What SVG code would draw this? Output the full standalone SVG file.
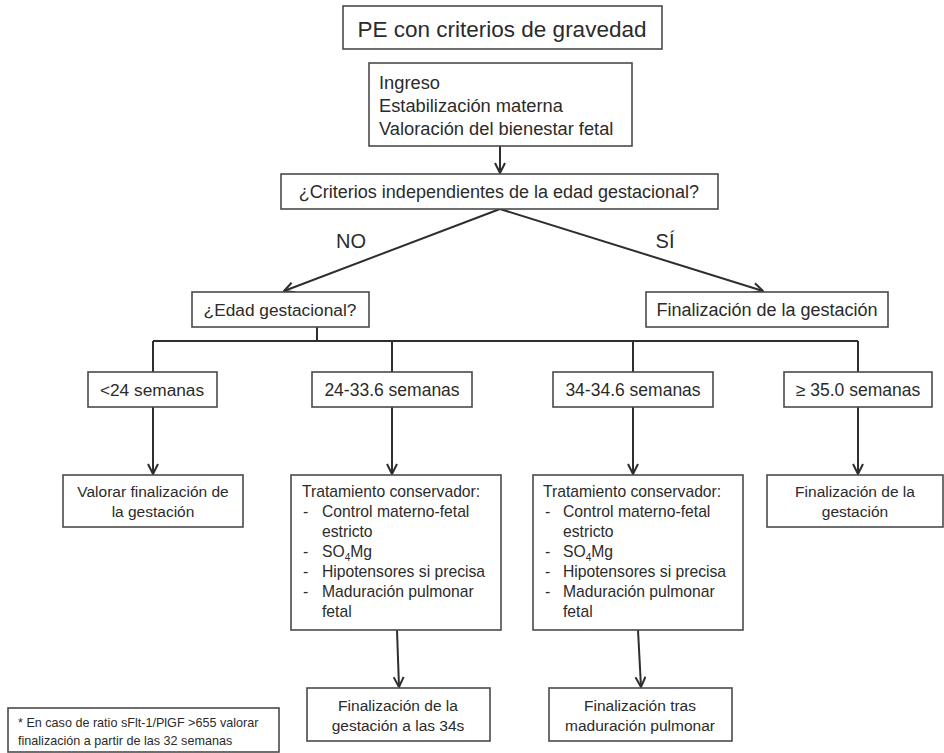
<svg xmlns="http://www.w3.org/2000/svg" width="944" height="753" viewBox="0 0 944 753">
<style>
rect.b{fill:#fff;stroke:#4a4a4a;stroke-width:1.6}
text{font-family:"Liberation Sans",Arial,sans-serif;fill:#2b2b2b}
.c{text-anchor:middle}
.l{stroke:#2e2e2e;stroke-width:2;fill:none}
</style>
<defs>
<marker id="ah" viewBox="0 0 12 12" refX="11" refY="6" markerWidth="12" markerHeight="12" markerUnits="userSpaceOnUse" orient="auto">
<path d="M1,1 L11,6 L1,11" fill="none" stroke="#2e2e2e" stroke-width="2"/>
</marker>
</defs>
<rect width="944" height="753" fill="#fff"/>
<g id="connectors">
<line class="l" x1="500" y1="146" x2="500" y2="173" marker-end="url(#ah)"/>
<line class="l" x1="500" y1="209" x2="284" y2="291" marker-end="url(#ah)"/>
<line class="l" x1="500" y1="209" x2="763" y2="291" marker-end="url(#ah)"/>
<line class="l" x1="317" y1="327" x2="317" y2="341"/>
<line class="l" x1="153" y1="341" x2="858" y2="341"/>
<line class="l" x1="153" y1="341" x2="153" y2="372"/>
<line class="l" x1="392" y1="341" x2="392" y2="372"/>
<line class="l" x1="633" y1="341" x2="633" y2="372"/>
<line class="l" x1="858" y1="341" x2="858" y2="372"/>
<line class="l" x1="153" y1="407" x2="153" y2="474" marker-end="url(#ah)"/>
<line class="l" x1="392" y1="407" x2="392" y2="474" marker-end="url(#ah)"/>
<line class="l" x1="633" y1="407" x2="633" y2="474" marker-end="url(#ah)"/>
<line class="l" x1="858" y1="407" x2="858" y2="474" marker-end="url(#ah)"/>
<line class="l" x1="397" y1="630" x2="399" y2="687" marker-end="url(#ah)"/>
<line class="l" x1="638" y1="630" x2="641" y2="687" marker-end="url(#ah)"/>
<text x="351" y="248" class="c" font-size="20">NO</text>
<text x="665" y="248" class="c" font-size="20">SÍ</text>
</g>
<g id="title">
<rect class="b" x="343" y="6" width="319" height="43"/>
<text x="502" y="37" class="c" font-size="22.5">PE con criterios de gravedad</text>
</g>
<g id="ingreso">
<rect class="b" x="369" y="63" width="263" height="83"/>
<text x="379" y="89" font-size="18.3">Ingreso</text>
<text x="379" y="112" font-size="18.3">Estabilización materna</text>
<text x="379" y="135" font-size="18.3">Valoración del bienestar fetal</text>
</g>
<g id="criterios">
<rect class="b" x="281" y="174" width="437" height="35"/>
<text x="499" y="198" class="c" font-size="18">¿Criterios independientes de la edad gestacional?</text>
</g>
<g id="edad">
<rect class="b" x="192" y="292" width="177" height="35"/>
<text x="280" y="316" class="c" font-size="17.3">¿Edad gestacional?</text>
</g>
<g id="finalizacion">
<rect class="b" x="646" y="292" width="242" height="35"/>
<text x="767" y="316" class="c" font-size="18">Finalización de la gestación</text>
</g>
<g id="s24">
<rect class="b" x="88" y="372" width="129" height="35"/>
<text x="152" y="396" class="c" font-size="17.3">&lt;24 semanas</text>
</g>
<g id="s24-33">
<rect class="b" x="312" y="372" width="160" height="35"/>
<text x="392" y="396" class="c" font-size="17.5">24-33.6 semanas</text>
</g>
<g id="s34">
<rect class="b" x="553" y="372" width="160" height="35"/>
<text x="633" y="396" class="c" font-size="17.5">34-34.6 semanas</text>
</g>
<g id="s35">
<rect class="b" x="784" y="372" width="148" height="35"/>
<text x="858" y="396" class="c" font-size="17.5">≥ 35.0 semanas</text>
</g>
<g id="valorar">
<rect class="b" x="63" y="475" width="180" height="52"/>
<text x="153" y="497" class="c" font-size="15.5">Valorar finalización de</text>
<text x="153" y="517" class="c" font-size="15.5">la gestación</text>
</g>
<g id="trat1">
<rect class="b" x="291" y="475" width="210" height="155"/>
<text font-size="15.7">
<tspan x="302" y="497">Tratamiento conservador:</tspan>
<tspan x="303" y="517">-</tspan><tspan x="322" y="517">Control materno-fetal</tspan>
<tspan x="322" y="537">estricto</tspan>
<tspan x="303" y="557">-</tspan><tspan x="322" y="557">SO<tspan font-size="10" dy="4">4</tspan><tspan dy="-4">Mg</tspan></tspan>
<tspan x="303" y="577">-</tspan><tspan x="322" y="577">Hipotensores si precisa</tspan>
<tspan x="303" y="597">-</tspan><tspan x="322" y="597">Maduración pulmonar</tspan>
<tspan x="322" y="617">fetal</tspan>
</text>
</g>
<g id="trat2">
<rect class="b" x="533" y="475" width="210" height="155"/>
<text font-size="15.7">
<tspan x="543" y="497">Tratamiento conservador:</tspan>
<tspan x="545" y="517">-</tspan><tspan x="563" y="517">Control materno-fetal</tspan>
<tspan x="563" y="537">estricto</tspan>
<tspan x="545" y="557">-</tspan><tspan x="563" y="557">SO<tspan font-size="10" dy="4">4</tspan><tspan dy="-4">Mg</tspan></tspan>
<tspan x="545" y="577">-</tspan><tspan x="563" y="577">Hipotensores si precisa</tspan>
<tspan x="545" y="597">-</tspan><tspan x="563" y="597">Maduración pulmonar</tspan>
<tspan x="563" y="617">fetal</tspan>
</text>
</g>
<g id="final35">
<rect class="b" x="767" y="475" width="176" height="52"/>
<text x="855" y="497" class="c" font-size="15.5">Finalización de la</text>
<text x="855" y="517" class="c" font-size="15.5">gestación</text>
</g>
<g id="final34">
<rect class="b" x="307" y="688" width="183" height="53"/>
<text x="398" y="711" class="c" font-size="15.5">Finalización de la</text>
<text x="398" y="731" class="c" font-size="15.5">gestación a las 34s</text>
</g>
<g id="finaltras">
<rect class="b" x="549" y="688" width="183" height="53"/>
<text x="640" y="711" class="c" font-size="15.5">Finalización tras</text>
<text x="640" y="731" class="c" font-size="15.5">maduración pulmonar</text>
</g>
<g id="nota">
<rect class="b" x="8" y="708" width="271" height="44"/>
<text x="18" y="727" font-size="12.6">* En caso de ratio sFlt-1/PlGF &gt;655 valorar</text>
<text x="18" y="745" font-size="12.6">finalización a partir de las 32 semanas</text>
</g>
</svg>
